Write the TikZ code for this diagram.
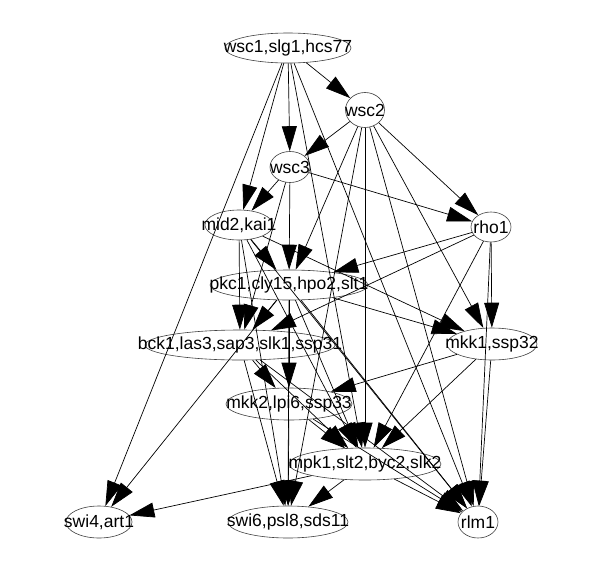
\documentclass[tikz,border=0pt]{standalone}
\usepackage{fontspec}
\setmainfont{Liberation Sans}
\usetikzlibrary{shapes.geometric,arrows.meta}
\begin{document}
\begin{tikzpicture}[x=1pt,y=-1pt,
  nd/.style={ellipse,draw=black!75,line width=0.6pt,inner sep=0pt,font=\fontsize{17.5}{20}\selectfont},
  ed/.style={line width=0.7pt,-{Triangle[length=25pt,width=15pt]}}]
\fill[white] (0,0) rectangle (600,571);
\useasboundingbox (0,0) rectangle (600,571);
\node[nd,minimum width=126pt,minimum height=30pt] (A) at (288,48) {\makebox[0pt]{wsc1,slg1,hcs77}};
\node[nd,minimum width=39pt,minimum height=35pt] (B) at (365,110) {\makebox[0pt]{wsc2}};
\node[nd,minimum width=40pt,minimum height=31pt] (C) at (290,167) {\makebox[0pt]{wsc3}};
\node[nd,minimum width=68pt,minimum height=30pt] (D) at (239,225) {\makebox[0pt]{mid2,kai1}};
\node[nd,minimum width=40pt,minimum height=30pt] (E) at (491,227) {\makebox[0pt]{rho1}};
\node[nd,minimum width=158pt,minimum height=30pt] (F) at (289,285) {\makebox[0pt]{pkc1,cly15,hpo2,slt1}};
\node[nd,minimum width=190pt,minimum height=30pt] (G) at (240,345) {\makebox[0pt]{bck1,las3,sap3,slk1,ssp31}};
\node[nd,minimum width=90pt,minimum height=32pt] (H) at (492,344) {\makebox[0pt]{mkk1,ssp32}};
\node[nd,minimum width=126pt,minimum height=32pt] (I) at (289,404) {\makebox[0pt]{mkk2,lpi6,ssp33}};
\node[nd,minimum width=152pt,minimum height=32pt] (J) at (365,464) {\makebox[0pt]{mpk1,slt2,byc2,slk2}};
\node[nd,minimum width=66pt,minimum height=32pt] (K) at (99,522) {\makebox[0pt]{swi4,art1}};
\node[nd,minimum width=120pt,minimum height=32pt] (L) at (288,522) {\makebox[0pt]{swi6,psl8,sds11}};
\node[nd,minimum width=40pt,minimum height=32pt] (M) at (478,522) {\makebox[0pt]{rlm1}};
% edges
\foreach \s/\t in {A/B,A/C,A/D,A/K,A/J,A/M,
  B/C,B/E,B/F,B/H,B/J,B/M,B/L,
  C/D,C/E,C/F,C/G,
  D/F,D/G,D/H,D/J,D/L,D/M,
  E/F,E/G,E/H,E/J,E/M,
  F/G,F/H,F/I,F/K,F/J,F/L,F/M,
  G/I,G/J,G/L,G/M,
  H/I,H/J,H/M,
  I/J,I/L,I/M,
  J/K,J/L,J/M}
  \draw[ed] (\s) -- (\t);
\end{tikzpicture}
\end{document}
